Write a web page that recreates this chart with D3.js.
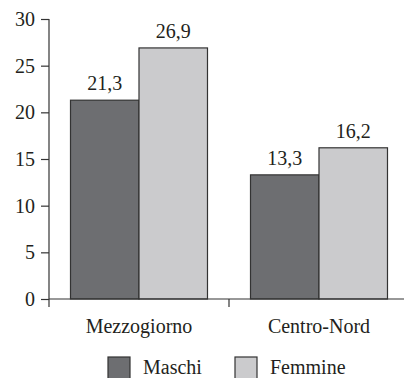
<!DOCTYPE html>
<html>
<head>
<meta charset="utf-8">
<script src="https://cdn.jsdelivr.net/npm/d3@7"></script>
<style>
  html, body { margin: 0; padding: 0; background: #fff; }
  #chart, #chart text { font-family: "Times New Roman" !important; }
</style>
</head>
<body>
<svg id="chart" width="404" height="378" font-family="Times New Roman"></svg>
<script>
// Data
const categories = ["Mezzogiorno", "Centro-Nord"];
const seriesNames = ["Maschi", "Femmine"];
const maschi = [21.3, 13.3];
const femmine = [26.9, 16.2];
const yTicks = [0, 5, 10, 15, 20, 25, 30];

const FS = 20;
const colors = { Maschi: "#6d6e71", Femmine: "#cbcbcd" };
const strokeCol = "#333333";
const textCol = "#231f20";

const svg = d3.select("#chart");
const margin = { left: 49, top: 19, right: -5, bottom: 79 };
const W = 404, H = 378;
const x0 = margin.left, x1 = W - margin.right;
const y0 = H - margin.bottom, y1 = margin.top;

const x = d3.scaleBand().domain(categories).range([x0, x1]).paddingInner(0).paddingOuter(0);
const xs = d3.scaleBand().domain(seriesNames).range([0, x.bandwidth()]).paddingInner(0).paddingOuter(0.314);
const y = d3.scaleLinear().domain([0, 30]).range([y0, y1]);

const rows = categories.map((c, i) => ({ cat: c, values: [
  { s: "Maschi", v: maschi[i] }, { s: "Femmine", v: femmine[i] }
]}));

function styleText(sel) {
  return sel.attr("font-size", FS).attr("fill", textCol);
}

// Bars with value labels
svg.selectAll("g.cat").data(rows).join("g").attr("class", "cat")
  .attr("transform", d => `translate(${x(d.cat)},0)`)
  .each(function(d) {
    const sel = d3.select(this);
    sel.selectAll("rect").data(d.values).join("rect")
      .attr("x", v => xs(v.s))
      .attr("y", v => y(v.v))
      .attr("width", xs.bandwidth())
      .attr("height", v => y(0) - y(v.v))
      .attr("fill", v => colors[v.s])
      .attr("stroke", strokeCol)
      .attr("stroke-width", 1.2);
    sel.selectAll("text").data(d.values).join("text")
      .attr("x", v => xs(v.s) + xs.bandwidth() / 2)
      .attr("y", v => y(v.v) - 10)
      .attr("text-anchor", "middle")
      .call(styleText)
      .text(v => d3.format(".1f")(v.v).replace(".", ","));
  });

// Y axis
const yAxis = d3.axisLeft(y).tickValues(yTicks).tickSize(8).tickPadding(6).tickSizeOuter(0);
const ya = svg.append("g").attr("transform", `translate(${x0},0)`).call(yAxis);
ya.attr("font-family", null).attr("font-size", null);
ya.select(".domain").remove();
ya.append("line").attr("x1", 0).attr("x2", 0).attr("y1", y1).attr("y2", y0 + 8)
  .attr("stroke", strokeCol).attr("stroke-width", 1.2);
ya.selectAll(".tick line").attr("stroke", strokeCol).attr("stroke-width", 1.2);
ya.selectAll(".tick text").call(styleText);

// X axis: baseline with separator ticks between categories
svg.append("line").attr("x1", x0).attr("x2", x1).attr("y1", y0).attr("y2", y0)
  .attr("stroke", strokeCol).attr("stroke-width", 1.2);
categories.slice(1).forEach(c => {
  svg.append("line").attr("x1", x(c)).attr("x2", x(c)).attr("y1", y0).attr("y2", y0 + 8)
    .attr("stroke", strokeCol).attr("stroke-width", 1.2);
});
svg.selectAll("text.catlabel").data(categories).join("text").attr("class", "catlabel")
  .attr("x", c => x(c) + x.bandwidth() / 2)
  .attr("y", y0 + 34)
  .attr("text-anchor", "middle")
  .call(styleText)
  .text(c => c);

// Legend
const legendX = [108, 235];
const lg = svg.selectAll("g.leg").data(seriesNames).join("g").attr("class", "leg")
  .attr("transform", (d, i) => `translate(${legendX[i]},357)`);
lg.append("rect").attr("width", 22).attr("height", 22)
  .attr("fill", d => colors[d]).attr("stroke", strokeCol).attr("stroke-width", 1.2);
lg.append("text").attr("x", 35).attr("y", 17)
  .call(styleText)
  .text(d => d);
</script>
</body>
</html>
